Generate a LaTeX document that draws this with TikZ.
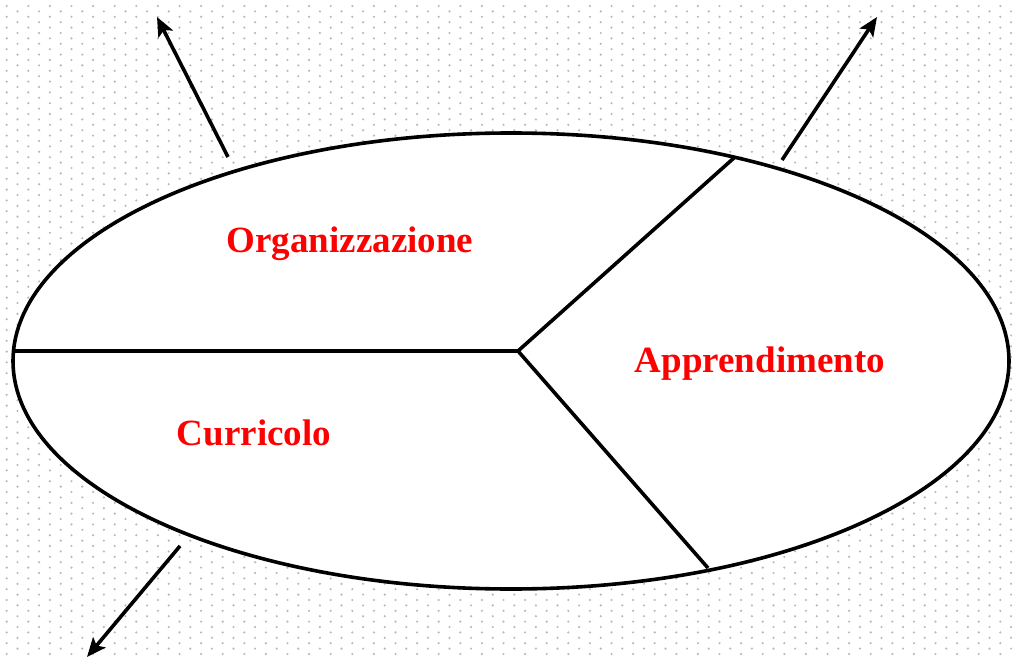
\documentclass[tikz,border=0pt]{standalone}
\usepackage{fontspec}
\setmainfont{Liberation Serif}
\usetikzlibrary{shapes.geometric,arrows.meta}
\definecolor{dotgray}{RGB}{185,185,185}
\definecolor{lblred}{RGB}{255,0,0}
\tikzset{
  region/.style={draw=black, line width=3.6pt, ellipse, inner sep=0pt, outer sep=0pt,
                 minimum width=996pt, minimum height=456pt},
  divider/.style={draw=black, line width=3.6pt},
  outarrow/.style={draw=black, line width=3.6pt, -{Stealth[length=19pt,width=16pt,inset=4pt]}},
  lbl/.style={text=lblred, font=\fontsize{37}{40}\selectfont\bfseries, inner sep=0pt, anchor=base}
}
\begin{document}
\begin{tikzpicture}[x=1pt,y=-1pt]
\useasboundingbox (0,0) rectangle (1012,658);
\fill[white] (0,0) rectangle (1012,658);
% dotted background
\foreach \i in {0,...,46} {
  \fill[dotgray] \foreach \j in {0,...,61} {(6.7+\i*21.6, 6+\j*10.8) circle (1.2)};
  \fill[dotgray] \foreach \j in {0,...,61} {(17.5+\i*21.6, 11.4+\j*10.8) circle (1.2)};
}
% ellipse
\node[region, fill=white] (ell) at (511,361) {};
% dividers
\coordinate (c) at (518,351);
\coordinate (w) at (13,351);
\coordinate (ne) at (735,157);
\coordinate (se) at (708,568);
\draw[divider] (w) -- (c);
\draw[divider] (c) -- (ne);
\draw[divider] (c) -- (se);
% arrows
\coordinate (a1s) at (228,157); \coordinate (a1t) at (157,17);
\coordinate (a2s) at (782,160); \coordinate (a2t) at (877,17);
\coordinate (a3s) at (180,546); \coordinate (a3t) at (87,657);
\draw[outarrow] (a1s) -- (a1t);
\draw[outarrow] (a2s) -- (a2t);
\draw[outarrow] (a3s) -- (a3t);
% labels
\node[lbl] (org) at (350,252) {Organizzazione};
\node[lbl] (app) at (760,372) {Apprendimento};
\node[lbl] (cur) at (254,445) {Curricolo};
\end{tikzpicture}
\end{document}
